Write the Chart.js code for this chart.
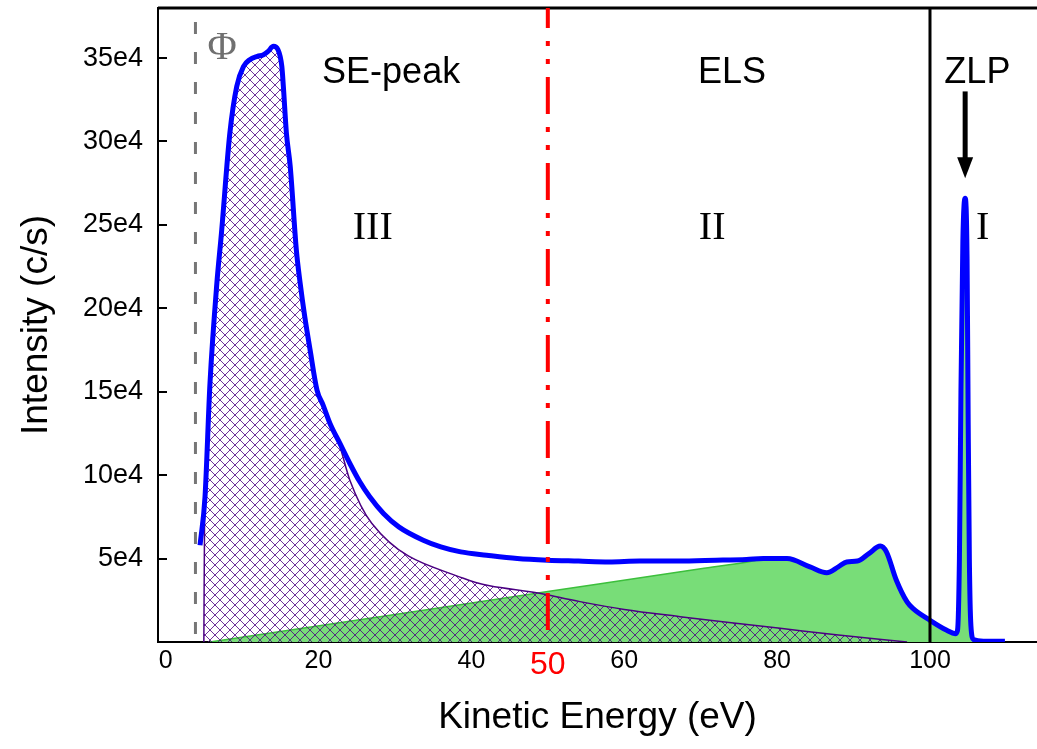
<!DOCTYPE html>
<html>
<head>
<meta charset="utf-8">
<script src="https://cdn.jsdelivr.net/npm/chart.js@4.4.0/dist/chart.umd.min.js"></script>
<style>
  body { margin: 0; background: #fff; }
  #wrap { width: 1037px; height: 749px; }
</style>
</head>
<body>
<div id="wrap"><canvas id="spectrum" width="1037" height="749"></canvas></div>
<script>
// energies in eV, intensities in units of 1e4 c/s
const totalEnergy = [4.5, 5.15, 5.8, 6.7, 7.3, 8.4, 9.3, 10.2, 11.0, 12.0, 12.8, 13.4, 14.1, 14.7, 15.2, 15.4, 15.8, 16.3, 17.1, 17.6,
  18.2, 18.9, 19.8, 20.6, 21.5, 22.8, 24.1, 25.4, 26.7, 28.5, 30.5, 33.7, 36.0, 38.6, 42.0, 46.0, 50.0, 54.0, 58.0, 62.0,
  67.0, 72.0, 76.0, 78.2, 81.3, 84.3, 86.5, 88.0, 89.1, 90.5, 92.0, 93.5, 94.3, 95.6, 97.0, 97.8, 100.0, 102.2, 103.3, 103.6,
  103.85, 104.05, 104.3, 104.6, 104.85, 105.0, 105.15, 105.35, 105.7, 107.0, 109.8];
const totalIntensity = [5.8, 8.7, 15.5, 21.5, 24.5, 30.5, 33.3, 34.5, 34.9, 35.1, 35.2, 35.4, 35.7, 35.5, 34.5, 33.3, 30.5, 28.5, 23.5, 21.5,
  19.5, 17.5, 15.1, 14.2, 13.1, 11.9, 10.7, 9.6, 8.7, 7.7, 6.9, 6.1, 5.7, 5.4, 5.2, 5.0, 4.9, 4.85, 4.8, 4.85,
  4.85, 4.9, 4.95, 5.0, 5.0, 4.5, 4.15, 4.5, 4.8, 4.85, 5.3, 5.75, 5.4, 3.7, 2.4, 2.0, 1.3, 0.7, 0.5, 0.7,
  5, 15, 24, 26.6, 23, 13, 5, 1, 0.15, 0.05, 0.05];

// secondary electron part (hatched)
const seEnergy = [5.0, 5.1, 5.15, 5.8, 6.7, 7.3, 8.4, 9.3, 10.2, 11.0, 12.0, 12.8, 13.4, 14.1, 14.7, 15.2, 15.4, 15.8, 16.3, 17.1,
  17.6, 18.2, 18.9, 19.8, 20.6, 21.5, 22.8, 24.1, 26.96, 38.95, 49.4, 54.2, 60.0, 67.3, 74.0, 80.4, 88.0, 97.0];
const seIntensity = [0, 8.0, 8.7, 15.5, 21.5, 24.5, 30.5, 33.3, 34.5, 34.9, 35.1, 35.2, 35.4, 35.7, 35.5, 34.5, 33.3, 30.5, 28.5, 23.5,
  21.5, 19.5, 17.5, 15.1, 14.2, 13.1, 11.7, 9.7, 7.12, 3.82, 2.88, 2.42, 1.95, 1.52, 1.15, 0.82, 0.42, 0];

// energy loss spectrum part (green)
const elsEnergy = [5.8, 30.0, 50.0, 70.0, 76.8, 78.2, 81.3, 84.3, 86.5, 88.0, 89.1, 90.5, 92.0, 93.5, 94.3, 95.6, 97.0, 97.8, 100.0, 102.2,
  103.3, 103.6, 103.85, 104.05, 104.3, 104.6, 104.85, 105.0, 105.15, 105.35, 105.7];
const elsIntensity = [0, 1.65, 3.02, 4.39, 4.85, 5.0, 5.0, 4.5, 4.15, 4.5, 4.8, 4.85, 5.3, 5.75, 5.4, 3.7, 2.4, 2.0, 1.3, 0.7,
  0.5, 0.7, 5, 15, 24, 26.6, 23, 13, 5, 1, 0.15];

const xTicks = [0, 20, 40, 50, 60, 80, 100];
const yTicks = [0, 5, 10, 15, 20, 25, 30, 35];

const workFunction = 3.9;
const seLimit = 50;
const zlpLimit = 100;
const zlpPeak = 104.6;

const sans = '"Liberation Sans", Arial, Helvetica, sans-serif';
const serif = '"Liberation Serif", "Times New Roman", serif';

function toPoints(xs, ys) {
  return xs.map((x, i) => ({ x: x, y: ys[i] }));
}

function makeHatch() {
  const size = 10;
  const c = document.createElement('canvas');
  c.width = size;
  c.height = size;
  const g = c.getContext('2d');
  g.strokeStyle = '#4b0082';
  g.lineWidth = 0.8;
  g.beginPath();
  g.moveTo(-1, -1); g.lineTo(size + 1, size + 1);
  g.moveTo(-1, size + 1); g.lineTo(size + 1, -1);
  g.stroke();
  return g.createPattern(c, 'repeat');
}

function noPad(s) {
  s.paddingTop = 0;
  s.paddingBottom = 0;
  s.paddingLeft = 0;
  s.paddingRight = 0;
}

const decor = {
  id: 'decor',
  afterDatasetsDraw(chart) {
    const { ctx, chartArea: a, scales: { x, y } } = chart;
    ctx.save();

    // frame top + inward y ticks
    ctx.strokeStyle = '#000';
    ctx.lineWidth = 3;
    ctx.beginPath();
    ctx.moveTo(a.left, a.top);
    ctx.lineTo(a.right, a.top);
    ctx.stroke();
    ctx.lineWidth = 2;
    yTicks.forEach(v => {
      if (!v) return;
      const py = Math.round(y.getPixelForValue(v));
      ctx.beginPath();
      ctx.moveTo(a.left, py);
      ctx.lineTo(a.left + 9, py);
      ctx.stroke();
    });

    function vline(val, color, width, dash, offset) {
      const px = x.getPixelForValue(val);
      ctx.strokeStyle = color;
      ctx.lineWidth = width;
      ctx.setLineDash(dash);
      ctx.lineDashOffset = offset;
      ctx.beginPath();
      ctx.moveTo(px, a.top);
      ctx.lineTo(px, a.bottom);
      ctx.stroke();
      ctx.setLineDash([]);
    }
    vline(workFunction, '#767676', 3, [12, 18], 16);
    vline(seLimit, '#ff0000', 4, [37, 13, 5, 13, 5, 13], 17);
    vline(zlpLimit, '#000', 3, [], 0);

    // arrow pointing at the ZLP
    const ax = x.getPixelForValue(zlpPeak);
    const top = y.getPixelForValue(33.0);
    const tip = y.getPixelForValue(27.8);
    ctx.strokeStyle = '#000';
    ctx.fillStyle = '#000';
    ctx.lineWidth = 5;
    ctx.beginPath();
    ctx.moveTo(ax, top);
    ctx.lineTo(ax, tip - 15);
    ctx.stroke();
    ctx.beginPath();
    ctx.moveTo(ax - 8, tip - 21);
    ctx.lineTo(ax + 8, tip - 21);
    ctx.lineTo(ax, tip);
    ctx.closePath();
    ctx.fill();

    function label(text, ex, iy, font, color) {
      ctx.font = font;
      ctx.fillStyle = color;
      ctx.textAlign = 'center';
      ctx.textBaseline = 'middle';
      ctx.fillText(text, x.getPixelForValue(ex), y.getPixelForValue(iy));
    }
    label('SE-peak', 29.5, 34.1, '36px ' + sans, '#000');
    label('ELS', 74.1, 34.1, '36px ' + sans, '#000');
    label('ZLP', 106.2, 34.1, '36px ' + sans, '#000');
    label('III', 27.1, 24.8, '40px ' + serif, '#000');
    label('II', 71.5, 24.8, '40px ' + serif, '#000');
    label('I', 106.9, 24.8, '40px ' + serif, '#000');
    label('\u03A6', 7.4, 35.6, '40px ' + serif, '#707070');

    ctx.restore();
  }
};

new Chart(document.getElementById('spectrum'), {
  type: 'line',
  data: {
    datasets: [
      {
        label: 'Total',
        data: toPoints(totalEnergy, totalIntensity),
        borderColor: '#0000ff',
        borderWidth: 5,
        fill: false,
        pointRadius: 0,
        cubicInterpolationMode: 'monotone'
      },
      {
        label: 'SE',
        data: toPoints(seEnergy, seIntensity),
        borderColor: '#4b0082',
        borderWidth: 1.5,
        backgroundColor: makeHatch(),
        fill: 'origin',
        pointRadius: 0,
        cubicInterpolationMode: 'monotone'
      },
      {
        label: 'ELS',
        data: toPoints(elsEnergy, elsIntensity),
        borderColor: '#3cbf3c',
        borderWidth: 1.5,
        backgroundColor: '#78dd78',
        fill: 'origin',
        pointRadius: 0,
        cubicInterpolationMode: 'monotone'
      }
    ]
  },
  options: {
    responsive: false,
    animation: false,
    layout: { padding: { top: 8, right: 0, bottom: 0, left: 0 } },
    plugins: {
      legend: { display: false },
      tooltip: { enabled: false }
    },
    scales: {
      x: {
        type: 'linear',
        min: -1,
        max: 114,
        grid: { display: false },
        border: { display: true, color: '#000', width: 2 },
        afterBuildTicks: s => { s.ticks = xTicks.map(v => ({ value: v })); },
        afterFit: s => { s.height = 107; noPad(s); },
        ticks: {
          padding: -4,
          color: c => (c.tick && c.tick.value === 50 ? '#ff0000' : '#000'),
          font: c => ({ family: sans, size: c.tick && c.tick.value === 50 ? 32 : 25 })
        },
        title: {
          display: true,
          text: 'Kinetic Energy (eV)',
          color: '#000',
          font: { family: sans, size: 37 },
          padding: { top: 0, bottom: 9 }
        }
      },
      y: {
        min: 0,
        max: 38,
        grid: { display: false },
        border: { display: true, color: '#000', width: 2 },
        afterBuildTicks: s => { s.ticks = yTicks.map(v => ({ value: v })); },
        afterFit: s => { s.width = 158; noPad(s); },
        ticks: {
          padding: 7,
          color: '#000',
          font: { family: sans, size: 27 },
          callback: v => (v === 0 ? '' : v + 'e4')
        },
        title: {
          display: true,
          text: 'Intensity (c/s)',
          color: '#000',
          font: { family: sans, size: 37 },
          padding: { top: 15, bottom: 0 }
        }
      }
    }
  },
  plugins: [decor]
});
</script>
</body>
</html>
